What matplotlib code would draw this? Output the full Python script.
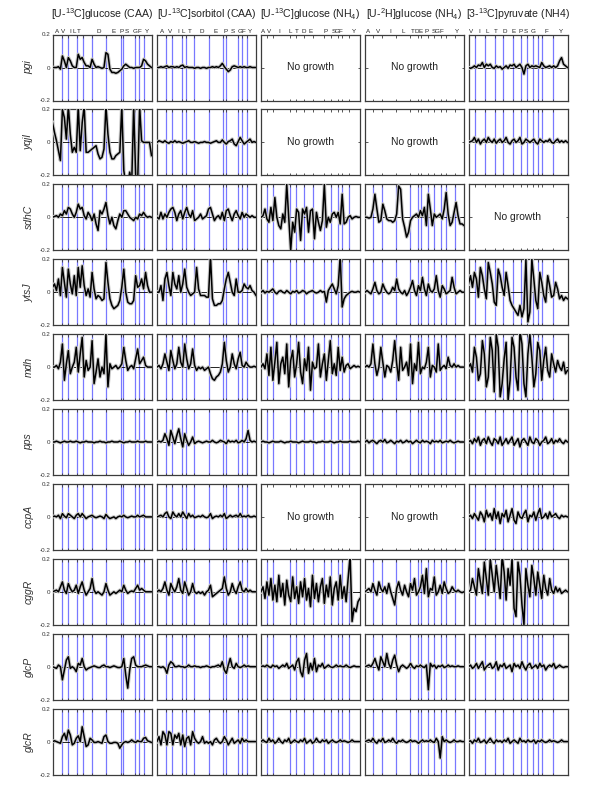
import matplotlib
matplotlib.use("Agg")
import matplotlib.pyplot as plt
import matplotlib.transforms as mtrans
import numpy as np

plt.rcParams['font.family'] = ['Liberation Sans', 'DejaVu Sans']
plt.rcParams['mathtext.fontset'] = 'custom'
plt.rcParams['mathtext.rm'] = 'Liberation Sans'
plt.rcParams['mathtext.it'] = 'Liberation Sans:italic'

# ---- labels ----
conditions = ["[U-$^{13}$C]glucose (CAA)", "[U-$^{13}$C]sorbitol (CAA)",
              "[U-$^{13}$C]glucose (NH$_4$)", "[U-$^{2}$H]glucose (NH$_4$)",
              "[3-$^{13}$C]pyruvate (NH4)"]
genes = ["pgi", "yqjI", "sdhC", "ytsJ", "mdh", "pps", "ccpA", "cggR", "glcP", "glcR"]

# amino acid labels and their positions (0-100 scale of each panel)
aa_c1 = ["A", "V", "I", "L", "T", "D", "E", "P", "S", "G", "F", "Y"]
aa_pos_c1 = [4.4, 11, 18, 22, 27, 46.6, 61.8, 69.6, 74.7, 83.8, 88, 95.6]
aa_c2 = ["A", "V", "I", "L", "T", "D", "E", "P", "S", "G", "F", "Y"]
aa_pos_c2 = [5, 13.5, 21, 27, 32.7, 45.5, 59.6, 69, 76.8, 83.5, 87.5, 94.3]
aa_c3 = ["A", "V", "I", "L", "T", "D", "E", "P", "S", "G", "F", "Y"]
aa_pos_c3 = [1.7, 8.5, 18.7, 29.6, 36.4, 43.2, 50, 65.3, 73, 77, 80.5, 94]
aa_c4 = ["A", "V", "I", "L", "T", "D", "E", "P", "S", "G", "F", "Y"]
aa_pos_c4 = [3.4, 13.6, 25.4, 39, 48.5, 52.5, 56.6, 62, 69, 73, 77, 93.2]
aa_c5 = ["V", "I", "L", "T", "D", "E", "P", "S", "G", "F", "Y"]
aa_pos_c5 = [2.5, 10.5, 19, 28, 37, 46, 53, 58, 65, 78.5, 93.5]

# fragment boundaries (blue lines)
bnd_c1 = [9.1, 15.2, 24.7, 30.4, 39.5, 54.1, 68.9, 70.9, 83.1, 87.8, 92.6]
bnd_c2 = [9.1, 14.8, 25.3, 29.3, 37.0, 52.5, 67.0, 69.4, 81.8, 86.2, 90.9]
bnd_c3 = [5.8, 12.5, 28.8, 35.3, 43.0, 52.2, 64.1, 70.5, 77.6, 81.4, 88.8]
bnd_c4 = [8.5, 17.6, 31.5, 45.8, 53.2, 56.6, 64.0, 69.5, 76.3, 81.4, 90.5]
bnd_c5 = [6.1, 16.5, 26.3, 35.0, 44.7, 53.2, 59.3, 65.0, 70.7, 74.4, 85.6]

# ---- traces, in units of 0.01 (None = no growth) ----
pgi_c1 = [0,0,0,0.5,-1,7,4,0,6,4,1,0,0,8,5,6,3,1,1,0,5,2,0,0.5,0,-0.5,0,9,8,-1,-3,-3,-3.5,-3,-2,-1,1,2,1,0,0,-0.5,0,0,0,1,5,4,2,1,0]
pgi_c2 = [0,0,0.5,0,0.5,1,0,0.5,0.5,0,0.5,0,1,1.5,0,0.5,0,0,0,-0.5,0,0,-0.5,0,0,-0.5,0,0,0.5,0,0.5,0,1,2.5,0.5,-1,-2.5,-1.5,0.5,1,0.5,0,0.5,0,0.5,0,0,0.5,0,0,0]
pgi_c5 = [0,-0.5,0,1,0,1.5,1,3,0,2,1,2,0,-0.5,1,0,0.5,-1,0,1,-0.5,1.5,1,2,0,1,2,0,-4,1,2,0,1,0.5,1,0.5,0,3,1,0,0.5,1,0,1,0,1,4,6,2,1,0]

yqjI_c1 = [12,6,1,-5,-11,20,15,2,22,5,-6,-3,-6,22,-5,12,22,-6,-6,-5,-4,-3,-2,-7,-10,-9,-4,22,5,-6,-10,-10,-8,-7,-6,22,-17,-25,-25,-18,-25,22,-20,-25,22,1,0,0,0,0,-8]
yqjI_c2 = [0,1,0.5,0,1,0,-0.5,0.5,0,1,0,0.5,0,-0.5,0,0.5,1,0,0,0.5,0,-0.5,0,0,0.5,0,0,-0.5,0,0.5,1,0,0,1.5,0,-1,0.5,1,2,-1,-2,0.5,3,1,-1,0,1,2,0,0.5,0]
yqjI_c5 = [0,0.5,1,3,0,2,-1,1,2,0,3,1,0,2,-0.5,1,2,0,1,3,0,-1,1,2,0,1,3,-1,0,2,1,0,1,2,0,-1,2,1,0,1,0.5,2,0,-0.5,1,2,0,1,0,1,0]

sdhC_c1 = [0,0.5,1,0,2,1,4,2,6,5,2,0,3,8,5,6,1,-1,3,1,-2,2,-4,-8,4,2,5,9,1,-4,0,-5,-7,-2,2,0,4,4,2,0,-1,-2,0,-1,2,1,3,1,0,0.5,0]
sdhC_c2 = [0,-1,3,-1,2,0,3,5,6,3,-2,2,4,-1,3,6,2,0,4,-2,-1,0,2,-1,0,1,5,6,2,-2,0,1,-1,3,-2,4,5,1,-2,2,4,1,-1,3,0,2,1,0,1,0,0]
sdhC_c3 = [0,1,5,-1,-3,6,-2,12,0,-5,-7,2,-3,20,0,-20,-3,-9,5,3,-14,5,2,6,-9,4,5,-13,3,-3,-8,-2,20,-6,0,-3,2,3,0,3,-4,14,-4,-3,0,1,-1,0,0.5,0,0]
sdhC_c4 = [0,0,-0.5,0,5,14,5,-3,-2,8,4,-1,-2,-2,-3,-2,2,19,17,-1,-6,-12,-9,-2,0,1,2,0,4,1,6,-5,14,5,-5,2,0,1,2,-1,5,15,2,-5,-3,3,9,1,-4,-4,-5]

ytsJ_c1 = [3,5,1,8,-2,15,6,-3,14,5,-1,10,-2,15,3,16,4,-2,2,-3,12,2,-4,-2,-3,-5,-4,18,6,-4,-8,-10,-9,-8,-5,3,14,0,-6,-7,-7,-5,10,3,4,8,2,12,4,0,0]
ytsJ_c2 = [0,0,4,-5,8,12,4,-2,12,5,2,10,0,5,14,3,0,-2,-1,0,15,2,-2,-2,-2,-3,-3,22,-4,-8,-8,-7,-7,-5,2,8,12,6,0,-2,8,0,0,1,5,3,2,4,1,0,-2]
ytsJ_c3 = [0,1,-0.5,0.5,0,1,2,0,-1,0.5,1,0,-0.5,1,0,-1,0.5,0,1,-0.5,0,1,0.5,-1,0,0.5,1,0,-0.5,0,1,0,0.5,-6,1,3,5,2,-1,4,22,-9,-4,-2,-1,0,0.5,0,0,0.5,0]
ytsJ_c4 = [0,1,0,-1,2,6,1,-1,0,5,2,0,-1,0,3,1,8,2,0,-1,1,-2,0,3,7,1,-2,4,1,9,2,-2,5,1,0,2,10,1,-3,4,2,-1,0,1,9,3,-1,0,1,0,0]
ytsJ_c5 = [5,10,3,12,8,-3,15,10,2,-4,18,12,5,-6,-8,14,10,3,-2,12,4,-5,-8,-10,-12,-14,-8,-15,-10,20,-18,-12,20,8,-5,-10,12,6,-2,-6,10,4,-3,-2,6,2,-4,-2,-5,-3,-4]

mdh_c1 = [0,0,1,-1,3,14,-8,2,10,-4,0,3,12,-3,8,18,-6,4,-2,0,16,-10,-3,5,-6,0,-4,20,-12,2,-1,0,1,-1,0,2,12,4,-2,0,1,-1,5,11,2,4,6,1,0,0,0]
mdh_c2 = [0,1,-1,2,8,3,-2,10,4,-1,2,12,3,0,14,5,-1,2,11,1,-2,0,-1,0,-2,-1,0,-4,-7,-8,-6,-5,-3,2,15,4,-3,0,8,2,-1,5,9,1,0,3,1,0,0,0.5,0]
mdh_c3 = [0,2,-1,8,-5,12,-8,3,15,-10,2,6,-4,14,-12,4,10,-6,2,15,-3,-10,5,-2,12,-14,3,-1,0,14,-6,2,8,-8,4,16,-4,2,-5,12,-2,6,-3,1,2,-1,0,1,0,0.5,0]
mdh_c4 = [0,1,0,2,14,2,-5,0,12,3,-6,1,0,-3,4,16,2,-8,12,-2,0,3,-5,14,-10,2,-2,15,-4,0,-1,3,12,-6,1,0,-3,14,-2,0,1,-1,6,1,0,2,0,1,0,0,0]
mdh_c5 = [0,2,-3,12,6,-8,-4,16,8,-12,-6,18,10,-15,20,12,-18,-10,5,15,-20,-8,18,12,-6,-14,22,14,-10,-18,8,20,6,-12,-4,15,10,-8,4,12,-2,-6,8,2,-3,4,0,-2,3,-4,-2]

pps_c1 = [0,0,0.5,0,-0.5,0,0.5,0,0,0.5,0,0,0.5,0,-0.5,0,0,0.5,0,0,0,-0.5,0,0,0.5,0,0,-0.5,0,0,0.5,0,0,0,0.5,0,-0.5,0,0,0.5,0,0,0,0.5,0,0,0,0.5,0,0,0]
pps_c2 = [0,0.5,0,1,5,2,-2,7,3,-1,4,8,2,-3,5,1,-2,0,3,-1,0,0.5,0,-0.5,0,0.5,0,0,1,0,-0.5,0,1,0.5,0,-1,1,0,0.5,0,1,-0.5,0,1,0,2,7,1,0,0.5,0]
pps_c3 = [0,0.5,0,0,-0.5,0,0.5,0,0,0,0.5,0,-0.5,0,0,0.5,0,0,0,-0.5,0,0.5,0,0,0,0.5,0,0,-0.5,0,0,0.5,0,0,0,0.5,0,-0.5,0,0,0.5,0,0,0,0,0.5,0,0,0,0.5,0]
pps_c4 = [0,1,-0.5,0.5,1,0,-1,0.5,1,0,1.5,-0.5,0,1,0,-1,0.5,0,1,-0.5,0,1,0,0.5,-1,0,1,0,-0.5,1,0,0.5,0,-1,1,0,0.5,0,1,-0.5,0,0.5,0,1,0,-0.5,0,0.5,0,0,0]
pps_c5 = [0,1,-1,2,0,3,-2,1,2,-1,3,0,-2,2,1,-1,3,-2,0,2,-1,1,3,-2,0,2,-3,1,2,0,-2,3,0,-1,2,1,-2,0,1,3,-1,0,2,-1,1,0,2,0,-1,1,0]

ccpA_c1 = [0,0.5,0,1,-1,2,0.5,-0.5,2,1,0,-1,1,2,0,2,0.5,-1,0,0.5,1,0,-0.5,0,0.5,0,-1,1.5,0,-1,-0.5,0,-1,0,0.5,0,1,0,-0.5,0,0.5,0,0,1,0,0.5,1,0,0,0,0]
ccpA_c2 = [0,0.5,1,0,2,3,0,-1,3,1,0,2,0,3,1,-1,2,0,1,-0.5,0,0.5,0,1,0,-0.5,0,2,-1,0,0.5,0,1,0,2,-1,0,1,0,0.5,1,0,2,0,0.5,0,1,0,0,0.5,0]
ccpA_c5 = [0,1,-1,2,0,-2,3,1,-3,4,0,2,-2,5,-1,3,-4,2,0,4,-3,1,5,-2,-4,3,0,-1,2,4,-3,1,0,3,-2,2,5,-1,0,2,-1,3,0,1,2,0,-1,1,0,0.5,0]

cggR_c1 = [0,0.5,1,0,3,6,1,-1,5,2,0,1,4,-1,3,6,1,-2,0,2,8,1,-1,0,-1,-2,0,5,1,-2,-1,0,-1,0,1,0,4,1,-1,0,0.5,0,2,4,1,2,1,0,0,0,0]
cggR_c2 = [0,1,0,2,6,1,-2,5,2,0,3,8,1,-1,6,2,-2,0,5,0,-1,0,-1,0,-2,0,1,4,-3,-2,-1,0,1,2,9,2,-2,0,5,1,-1,3,6,1,0,2,0,1,0,0,0]
cggR_c3 = [0,3,-4,6,-2,8,-5,4,-6,10,-3,5,-8,7,-2,-6,9,-4,3,-7,6,-3,8,-5,2,-9,10,-4,5,-6,3,8,-7,4,-3,9,-8,2,6,-5,10,-4,3,-6,8,22,-18,-10,-12,-6,-4]
cggR_c4 = [0,1,2,0,5,1,-2,6,2,0,3,-1,5,0,-4,-8,2,6,1,-2,4,0,-3,5,1,8,-2,0,3,10,-1,14,-3,2,1,9,-2,0,4,-1,6,2,-1,0,3,1,0,1,0,-0.5,0]
cggR_c5 = [0,1,8,3,-2,14,6,-1,18,8,-2,20,10,0,16,6,-4,22,12,-5,14,4,20,-10,-15,18,10,-8,-20,14,4,-3,16,8,-2,12,4,-4,10,2,-2,8,1,-1,3,0,2,-1,0,1,0]

glcP_c1 = [0,-0.5,-1,1,0,-8,-2,4,6,-1,0,-1,-3,2,1,5,0,-2,-1,-0.5,0,0.5,0,-0.5,-0.5,0.5,1,0,0,-0.5,0,0.5,0,-0.5,-0.5,0,5,-5,-13,-2,5,6,1,0,0,0,0.5,1,0.5,0,0]
glcP_c2 = [0,0,-0.5,0,-1,-4,1,3,2,0,0,0.5,0,0,-0.5,0,1,0,0,0.5,0,0,-0.5,0,0,0.5,0,-0.5,0,0,0.5,1,0,3,-2,-4,1,5,0,-1,2,0,-0.5,0,1,0,0.5,0,0,0,0]
glcP_c3 = [0,0.5,0,1,0,-0.5,1,0,0.5,-1,0,1,0,2,-1,0,1,-2,3,5,-3,-6,4,8,-4,2,-2,5,-3,1,0,2,-1,0,1,0,-0.5,0,1,0,0.5,0,0,1,0,-0.5,0,0.5,0,0,0]
glcP_c4 = [0,0.5,1,0,2,5,1,-2,6,3,0,8,2,-1,4,7,1,-3,0,1,0,-1,0,2,0,-1,0.5,0,1,0,-0.5,1,-14,2,0,1,-1,0.5,0,1,-0.5,0,1,0,0.5,0,0,0.5,0,0,0]
glcP_c5 = [0,1,-1,0,2,-1,1,3,-2,0,1,2,-1,0,3,-2,1,0,2,-1,0,1,-3,2,0,1,-1,3,0,-2,1,2,-1,0,1,-1,2,0,1,-2,0,1,0,2,-1,0,1,0,-0.5,0,0]

glcR_c1 = [0,0.5,0,-0.5,-1,3,5,1,7,4,-2,-1,2,3.5,0,9,3,-3,-2,2,1,-0.5,-0.5,0,-0.5,-1,3,4,0,-1,-1,-0.5,-0.5,-1,-4,-2,-0.5,0,-0.5,0,1,0,-0.5,0.5,0,0,2,2.5,0.5,0,-0.5]
glcR_c2 = [0,3,-2,6,4,-2,6,5,-2,4,2,5,-2,4,-3,2,3,-2,6,2,0,-1,0,3,-1,0,-1,0,-2,1,2,0,-1,0,3,1,-2,0,2,-1,0,1,-1,2,0,1,0,0,0,0,0]
glcR_c3 = [0,1,0,-0.5,2,0,1,-1,0,2,0,-1,1,0,2,-1,0,1,0,-0.5,1,0,2,-1,0,1,-1,0,2,0,-0.5,1,0,1,-1,0,1,0,-0.5,0,1,0,0.5,0,-0.5,0,1,0,0,0,0]
glcR_c4 = [0,0.5,1,0,2,0,-1,1,0,2,-0.5,0,1,0,2,0,-1,0.5,0,1,0,-0.5,0,1,0,0.5,0,-1,0,1,0,0.5,0,1,0,-0.5,2,0,-10,3,0,1,0,-0.5,0,1,0,0,0.5,0,0]
glcR_c5 = [0,0.5,-1,1,0,2,-0.5,0,1,-1,0.5,2,0,-1,1,0,0.5,-0.5,1,0,2,-1,0,1,0,-1,2,0,0.5,-0.5,1,0,0,1,-1,0.5,0,1,0,-0.5,0,1,0,0.5,0,-0.5,0,1,0,0,0]

grid = [
    [pgi_c1, pgi_c2, None, None, pgi_c5],
    [yqjI_c1, yqjI_c2, None, None, yqjI_c5],
    [sdhC_c1, sdhC_c2, sdhC_c3, sdhC_c4, None],
    [ytsJ_c1, ytsJ_c2, ytsJ_c3, ytsJ_c4, ytsJ_c5],
    [mdh_c1, mdh_c2, mdh_c3, mdh_c4, mdh_c5],
    [pps_c1, pps_c2, pps_c3, pps_c4, pps_c5],
    [ccpA_c1, ccpA_c2, None, None, ccpA_c5],
    [cggR_c1, cggR_c2, cggR_c3, cggR_c4, cggR_c5],
    [glcP_c1, glcP_c2, glcP_c3, glcP_c4, glcP_c5],
    [glcR_c1, glcR_c2, glcR_c3, glcR_c4, glcR_c5],
]
bounds = [bnd_c1, bnd_c2, bnd_c3, bnd_c4, bnd_c5]
aa_names = [aa_c1, aa_c2, aa_c3, aa_c4, aa_c5]
aa_pos = [aa_pos_c1, aa_pos_c2, aa_pos_c3, aa_pos_c4, aa_pos_c5]

# ---- layout (pixels of a 600x786 canvas) ----
W, H = 600, 786
col_left = [52.5, 157, 261, 365, 468.5]
pw, ph = 99, 66
row_top0, row_step = 34.5, 74.9
frame_col = "#3c3c3c"
blue = "#7878ff"

fig = plt.figure(figsize=(W / 100, H / 100), dpi=100)

for r in range(len(genes)):
    top = row_top0 + r * row_step
    for c in range(5):
        ax = fig.add_axes([col_left[c] / W, (H - top - ph) / H, pw / W, ph / H])
        ax.set_xlim(0, 100)
        ax.set_ylim(-0.2, 0.2)
        for s in ax.spines.values():
            s.set_color(frame_col)
            s.set_linewidth(0.9)
        ax.set_xticks(bounds[c])
        ax.set_xticklabels([])
        ax.tick_params(axis='both', direction='in', length=1.8, width=0.6,
                       colors=frame_col, top=True, right=True, pad=1.5)
        if c == 0:
            ax.set_yticks([-0.2, 0, 0.2])
            ax.set_yticklabels(["-0.2", "0", "0.2"], fontsize=4.5, color="#333333")
        else:
            ax.set_yticks([0])
            ax.set_yticklabels([])
        vals = grid[r][c]
        if vals is None:
            ax.text(50, 0, "No growth", ha='center', va='center', fontsize=7.5, color="#222222")
        else:
            for b in bounds[c]:
                ax.axvline(b, color=blue, lw=0.9, zorder=1)
            ax.axhline(0, color="black", lw=0.6, zorder=2)
            y = np.array(vals) / 100.0
            x = np.linspace(0, 100, len(y))
            ax.plot(x, y, color="#c8c8c8", lw=2.6, zorder=3, solid_joinstyle='round')
            ax.plot(x, y, color="black", lw=1.1, zorder=4)
        if r == 0:
            tr = mtrans.blended_transform_factory(ax.transData, ax.transAxes)
            for name, p in zip(aa_names[c], aa_pos[c]):
                ax.text(p, 1.015, name, transform=tr, ha='center', va='bottom',
                        fontsize=4.5, color="#222222")
            ax.text(0.5, 1.185, conditions[c], transform=ax.transAxes, ha='center',
                    va='bottom', fontsize=7.6, color="#222222")
        if c == 0:
            ax.text(-0.24, 0.5, genes[r], transform=ax.transAxes, rotation=90,
                    ha='center', va='center', fontsize=7.5, style='italic', color="#333333")

fig.savefig("out.png", dpi=100)
